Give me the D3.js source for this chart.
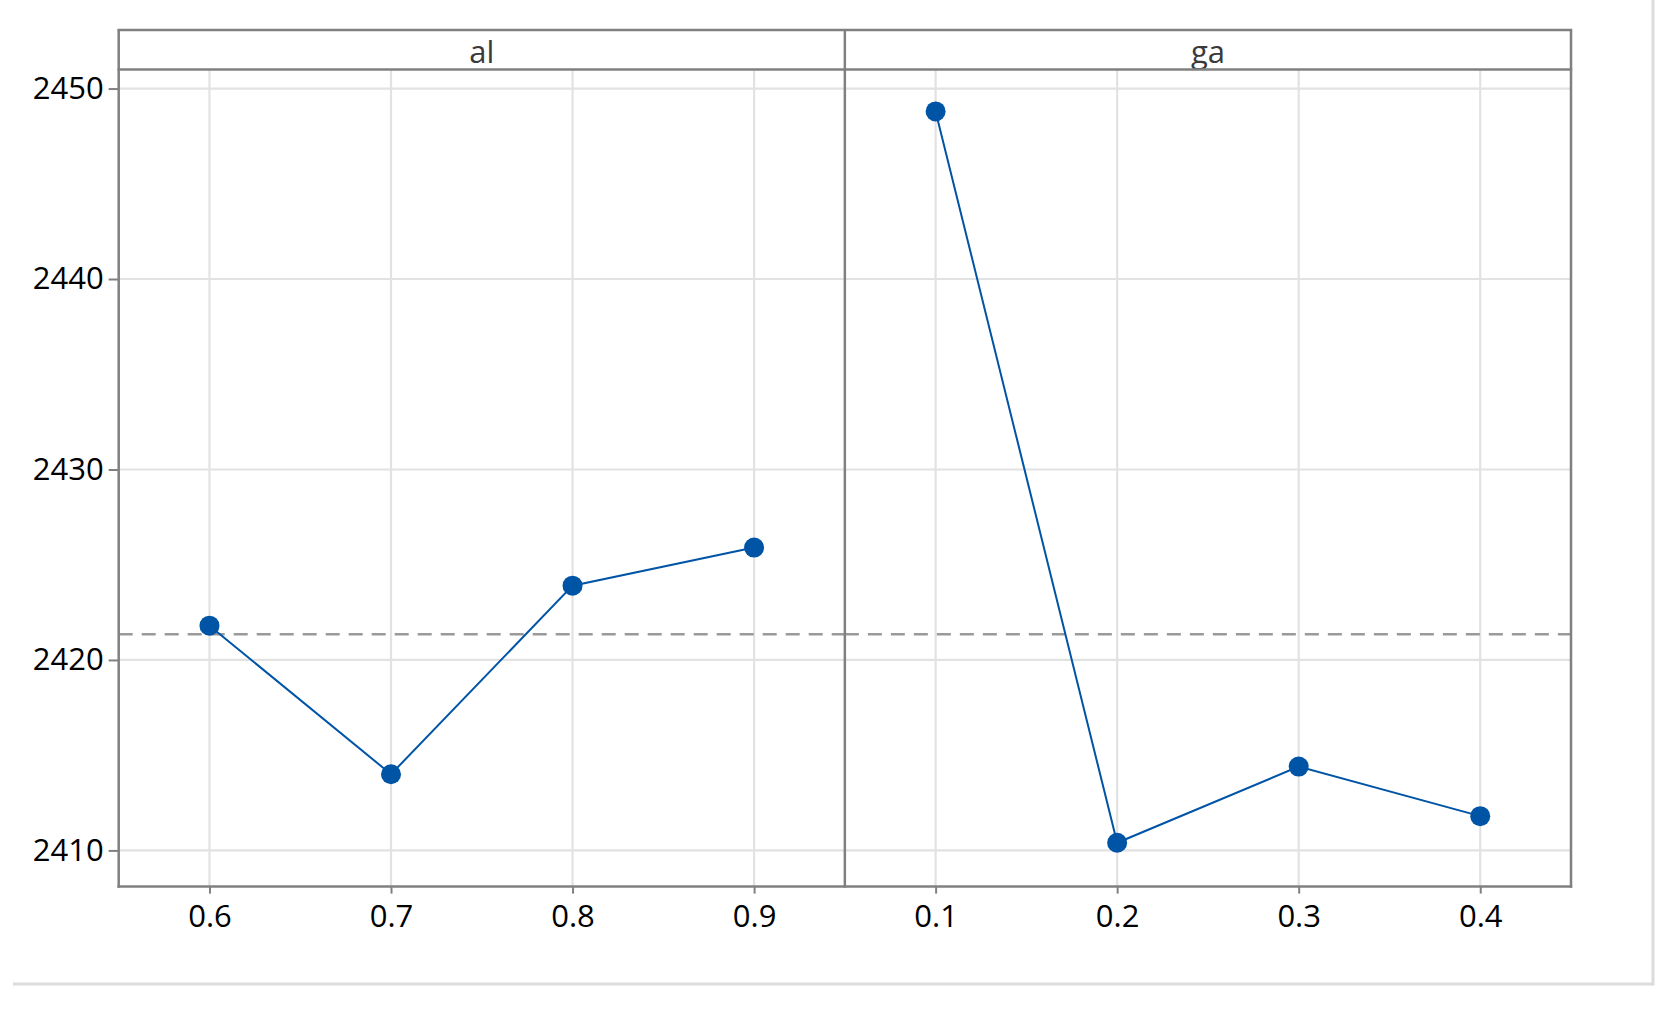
<!DOCTYPE html>
<html>
<head>
<meta charset="utf-8">
<script src="https://cdn.jsdelivr.net/npm/d3@7"></script>
<style>
  html, body { margin: 0; padding: 0; background: #fff; }
  svg { display: block; }
  text { font-family: "Open Sans", "Noto Sans", sans-serif; }
</style>
</head>
<body>
<svg id="chart" width="1677" height="1013"></svg>
<script>
// ---- data ----
const panelNames = ["al", "ga"];
const alLevels = ["0.6", "0.7", "0.8", "0.9"];
const alMeans  = [2421.8, 2414.0, 2423.9, 2425.9];
const gaLevels = ["0.1", "0.2", "0.3", "0.4"];
const gaMeans  = [2448.8, 2410.4, 2414.4, 2411.8];
const grandMean = 2421.35;
const yTickValues = [2410, 2420, 2430, 2440, 2450];

const panelLevels = [alLevels, gaLevels];
const panelValues = [alMeans, gaMeans];

// ---- layout ----
const svg = d3.select("#chart");
const plotLeft = 118.7, plotRight = 1571;
const stripTop = 30, plotTop = 69.5, plotBottom = 886.6;
const panelW = (plotRight - plotLeft) / 2;

const blue = "#0054a6";
const frameColor = "#808080";
const gridColor = "#e2e2e2";

const y = d3.scaleLinear().domain([2408.1, 2451.0]).range([plotBottom, plotTop]);

// outer light frame (bottom + right)
svg.append("line").attr("x1", 13).attr("x2", 1653).attr("y1", 984).attr("y2", 984)
  .attr("stroke", "#dcdcdc").attr("stroke-width", 3);
svg.append("line").attr("x1", 1653).attr("x2", 1653).attr("y1", 0).attr("y2", 985.5)
  .attr("stroke", "#dcdcdc").attr("stroke-width", 3);

panelNames.forEach((name, i) => {
  const g = svg.append("g").attr("transform", `translate(${plotLeft + i * panelW},0)`);
  const x = d3.scalePoint().domain(panelLevels[i]).range([0, panelW]).padding(0.5);

  // gridlines
  g.append("g").selectAll("line").data(yTickValues).join("line")
    .attr("x1", 0).attr("x2", panelW)
    .attr("y1", d => y(d)).attr("y2", d => y(d))
    .attr("stroke", gridColor).attr("stroke-width", 2.2);
  g.append("g").selectAll("line").data(panelLevels[i]).join("line")
    .attr("x1", d => x(d)).attr("x2", d => x(d))
    .attr("y1", plotTop).attr("y2", plotBottom)
    .attr("stroke", gridColor).attr("stroke-width", 2.2);

  // reference (grand mean) dashed line
  g.append("line").attr("x1", 0).attr("x2", panelW)
    .attr("y1", y(grandMean)).attr("y2", y(grandMean))
    .attr("stroke", "#9a9a9a").attr("stroke-width", 2.4)
    .attr("stroke-dasharray", "14,9");

  // data
  const pts = panelLevels[i].map((lv, k) => ({ lv, v: panelValues[i][k] }));
  g.append("path").datum(pts)
    .attr("fill", "none").attr("stroke", blue).attr("stroke-width", 2)
    .attr("d", d3.line().x(d => x(d.lv)).y(d => y(d.v)));
  g.append("g").selectAll("circle").data(pts).join("circle")
    .attr("cx", d => x(d.lv)).attr("cy", d => y(d.v)).attr("r", 10)
    .attr("fill", blue);

  // bottom axis
  const xAxis = g.append("g").attr("transform", `translate(0,${plotBottom})`)
    .call(d3.axisBottom(x).tickSize(7).tickPadding(11).tickSizeOuter(0));
  xAxis.select(".domain").remove();
  xAxis.selectAll(".tick line").attr("stroke", frameColor).attr("stroke-width", 2);
  xAxis.selectAll(".tick text").attr("font-size", 31).attr("fill", "#000")
    .style("font-family", '"Open Sans", sans-serif');

  // strip
  g.append("rect").attr("x", 0).attr("y", stripTop).attr("width", panelW)
    .attr("height", plotTop - stripTop).attr("fill", "#fff");
  g.append("text").attr("x", panelW / 2).attr("y", plotTop - 7)
    .attr("text-anchor", "middle").attr("font-size", 31).attr("fill", "#3a3a3a")
    .text(name);
});

// y axis on left
const yAxis = svg.append("g").attr("transform", `translate(${plotLeft},0)`)
  .call(d3.axisLeft(y).tickValues(yTickValues).tickFormat(d3.format("d"))
    .tickSize(10).tickPadding(5).tickSizeOuter(0));
yAxis.select(".domain").remove();
yAxis.selectAll(".tick line").attr("stroke", frameColor).attr("stroke-width", 2);
yAxis.selectAll(".tick text").attr("font-size", 31).attr("fill", "#000")
  .style("font-family", '"Open Sans", sans-serif');

// frame lines
const frame = svg.append("g").attr("stroke", frameColor).attr("stroke-width", 2.5).attr("fill", "none");
[plotLeft, plotLeft + panelW, plotRight].forEach(xx => {
  frame.append("line").attr("x1", xx).attr("x2", xx).attr("y1", stripTop).attr("y2", plotBottom + 1.2);
});
[stripTop, plotTop, plotBottom].forEach(yy => {
  frame.append("line").attr("x1", plotLeft - 1.2).attr("x2", plotRight + 1.2).attr("y1", yy).attr("y2", yy);
});
</script>
</body>
</html>
